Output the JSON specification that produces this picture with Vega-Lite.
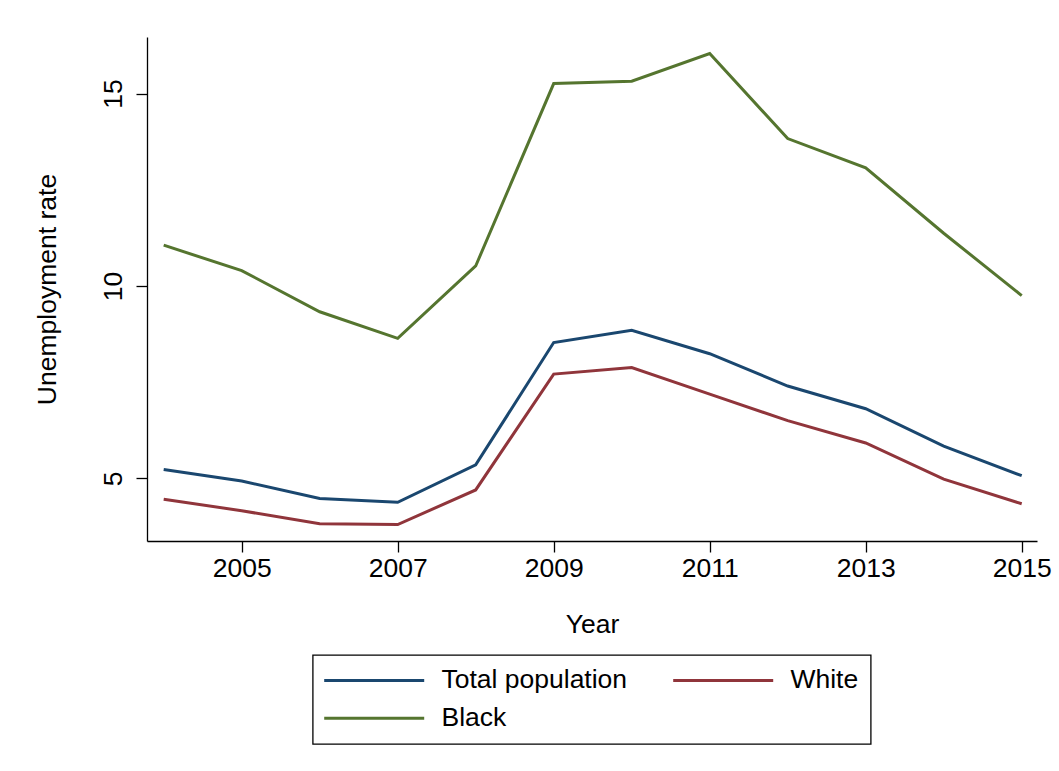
{
  "$schema": "https://vega.github.io/schema/vega-lite/v6.json",
  "width": 890,
  "height": 504,
  "autosize": {"type": "none"},
  "padding": {"left": 147, "top": 37, "right": 22, "bottom": 230},
  "background": "white",
  "config": {
    "view": {"stroke": null},
    "font": "Liberation Sans",
    "axis": {
      "grid": false,
      "domainColor": "black",
      "domainWidth": 1.3,
      "tickColor": "black",
      "tickWidth": 1.3,
      "labelColor": "black",
      "titleColor": "black",
      "labelFontSize": 26.5,
      "titleFontSize": 26.5,
      "titleFontWeight": "normal",
      "labelFont": "Liberation Sans",
      "titleFont": "Liberation Sans"
    },
    "legend": {
      "labelFont": "Liberation Sans",
      "strokeWidth": 1.3
    }
  },
  "data": {
    "values": [
      {"year": 2004, "group": "Total population", "rate": 5.23},
      {"year": 2005, "group": "Total population", "rate": 4.93},
      {"year": 2006, "group": "Total population", "rate": 4.48},
      {"year": 2007, "group": "Total population", "rate": 4.38},
      {"year": 2008, "group": "Total population", "rate": 5.35},
      {"year": 2009, "group": "Total population", "rate": 8.53},
      {"year": 2010, "group": "Total population", "rate": 8.85},
      {"year": 2011, "group": "Total population", "rate": 8.24},
      {"year": 2012, "group": "Total population", "rate": 7.4},
      {"year": 2013, "group": "Total population", "rate": 6.81},
      {"year": 2014, "group": "Total population", "rate": 5.84},
      {"year": 2015, "group": "Total population", "rate": 5.07},
      {"year": 2004, "group": "White", "rate": 4.46},
      {"year": 2005, "group": "White", "rate": 4.16},
      {"year": 2006, "group": "White", "rate": 3.82},
      {"year": 2007, "group": "White", "rate": 3.8},
      {"year": 2008, "group": "White", "rate": 4.7},
      {"year": 2009, "group": "White", "rate": 7.71},
      {"year": 2010, "group": "White", "rate": 7.88},
      {"year": 2011, "group": "White", "rate": 7.19},
      {"year": 2012, "group": "White", "rate": 6.5},
      {"year": 2013, "group": "White", "rate": 5.92},
      {"year": 2014, "group": "White", "rate": 4.98},
      {"year": 2015, "group": "White", "rate": 4.34},
      {"year": 2004, "group": "Black", "rate": 11.06},
      {"year": 2005, "group": "Black", "rate": 10.4},
      {"year": 2006, "group": "Black", "rate": 9.33},
      {"year": 2007, "group": "Black", "rate": 8.64},
      {"year": 2008, "group": "Black", "rate": 10.52},
      {"year": 2009, "group": "Black", "rate": 15.26},
      {"year": 2010, "group": "Black", "rate": 15.32},
      {"year": 2011, "group": "Black", "rate": 16.04},
      {"year": 2012, "group": "Black", "rate": 13.83},
      {"year": 2013, "group": "Black", "rate": 13.07},
      {"year": 2014, "group": "Black", "rate": 11.37},
      {"year": 2015, "group": "Black", "rate": 9.75}
    ]
  },
  "mark": {"type": "line", "strokeWidth": 3},
  "encoding": {
    "x": {
      "field": "year",
      "type": "quantitative",
      "scale": {"domain": [2003.786, 2015.196], "nice": false, "zero": false},
      "axis": {
        "values": [2005, 2007, 2009, 2011, 2013, 2015],
        "format": "d",
        "title": "Year",
        "tickSize": 11,
        "labelPadding": 3,
        "titlePadding": 30
      }
    },
    "y": {
      "field": "rate",
      "type": "quantitative",
      "scale": {"domain": [3.373, 16.47], "nice": false, "zero": false},
      "axis": {
        "values": [5, 10, 15],
        "title": "Unemployment rate",
        "tickSize": 11,
        "labelAngle": -90,
        "labelAlign": "center",
        "labelBaseline": "bottom",
        "labelPadding": 9,
        "titlePadding": 39
      }
    },
    "color": {
      "field": "group",
      "type": "nominal",
      "sort": ["Total population", "White", "Black"],
      "scale": {
        "domain": ["Total population", "White", "Black"],
        "range": ["#1a476f", "#90353b", "#55752f"]
      },
      "legend": {
        "title": null,
        "orient": "none",
        "legendX": 165.7,
        "legendY": 618,
        "columns": 2,
        "direction": "horizontal",
        "symbolType": "M-5,0H5",
        "symbolSize": 400,
        "symbolStrokeWidth": 3,
        "symbolOffset": 36.25,
        "labelFontSize": 26.5,
        "labelColor": "black",
        "labelOffset": 54,
        "labelLimit": 0,
        "columnPadding": 39,
        "rowPadding": 11,
        "padding": 12,
        "strokeColor": "black",
        "cornerRadius": 0
      }
    }
  }
}
